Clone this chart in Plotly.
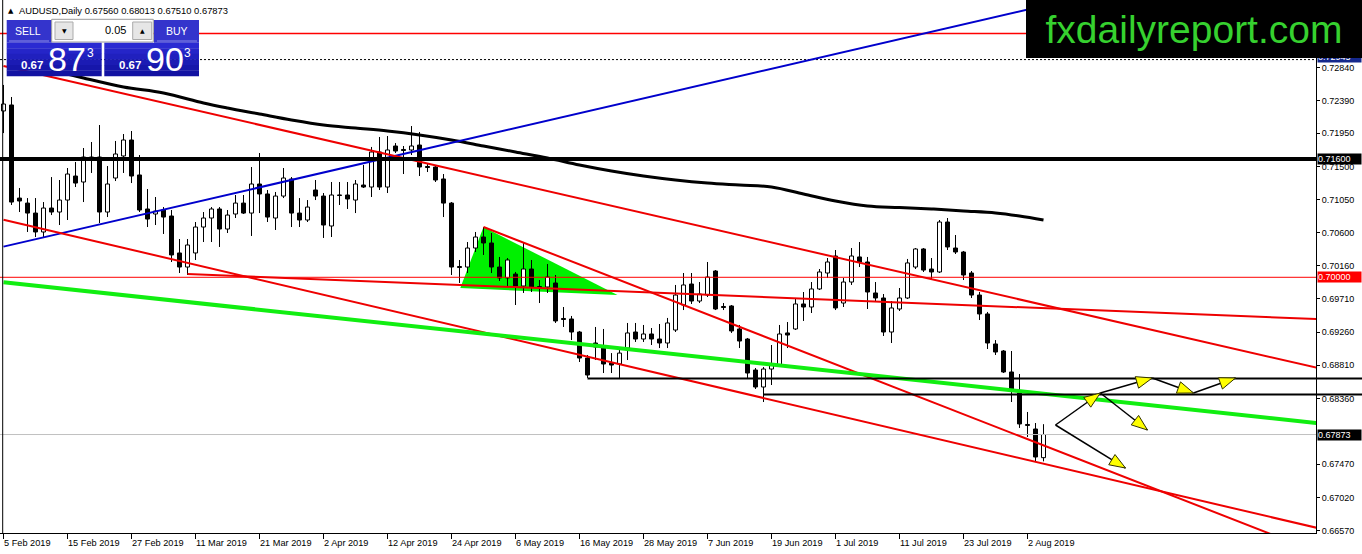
import numpy as np
import pandas as pd
import plotly.graph_objects as go

# ---------------- data ----------------
dates = pd.bdate_range("2019-02-05", "2019-08-06")

open_ = [0.72250, 0.72331, 0.71072, 0.71004, 0.70869, 0.70613, 0.70937, 0.70883, 0.71045, 0.71370,
         0.71289, 0.71627, 0.71627, 0.70883, 0.71343, 0.71641, 0.71857, 0.71384, 0.70924, 0.70856,
         0.70910, 0.70829, 0.70329, 0.70139, 0.70329, 0.70680, 0.70802, 0.70924, 0.70653, 0.70856,
         0.71004, 0.70869, 0.71262, 0.71127, 0.70802, 0.71099, 0.71330, 0.70869, 0.70775, 0.71181,
         0.71099, 0.70694, 0.71113, 0.71113, 0.71045, 0.71248, 0.71221, 0.71695, 0.71221, 0.71776,
         0.71729, 0.71722, 0.71789, 0.71499, 0.71492, 0.71330, 0.71004, 0.70146, 0.70139, 0.70396,
         0.70545, 0.70464, 0.70139, 0.69991, 0.70044, 0.69882, 0.70112, 0.69875, 0.69869, 0.69923,
         0.69443, 0.69436, 0.69260, 0.68908, 0.69111, 0.69043, 0.68840, 0.68827, 0.69043, 0.69260,
         0.69165, 0.69233, 0.69165, 0.69111, 0.69287, 0.69625, 0.69909, 0.69679, 0.69760, 0.70085,
         0.69605, 0.69612, 0.69301, 0.69165, 0.68746, 0.68516, 0.68759, 0.68813, 0.69247, 0.69301,
         0.69639, 0.69598, 0.69842, 0.70058, 0.70288, 0.69652, 0.69936, 0.70275, 0.70207, 0.69788,
         0.69720, 0.69260, 0.69571, 0.69720, 0.70139, 0.70383, 0.70112, 0.70072, 0.70748, 0.70396,
         0.70342, 0.70058, 0.69760, 0.69504, 0.69098, 0.69003, 0.68719, 0.68435, 0.68009, 0.67948,
         0.67560]
high = [0.72602, 0.72439, 0.71208, 0.71072, 0.71072, 0.71018, 0.71356, 0.71316, 0.71478, 0.71560,
        0.71749, 0.71830, 0.72060, 0.71505, 0.71844, 0.71938, 0.71979, 0.71654, 0.71194, 0.71086,
        0.70950, 0.70910, 0.70518, 0.70518, 0.70748, 0.70883, 0.70950, 0.70950, 0.70910, 0.71113,
        0.71113, 0.71492, 0.71681, 0.71181, 0.71154, 0.71478, 0.71356, 0.71072, 0.71045, 0.71316,
        0.71140, 0.71289, 0.71289, 0.71289, 0.71316, 0.71519, 0.71763, 0.71898, 0.71911, 0.71816,
        0.71776, 0.72046, 0.71965, 0.71532, 0.71505, 0.71397, 0.71018, 0.70234, 0.70477, 0.70613,
        0.70680, 0.70599, 0.70275, 0.70261, 0.70072, 0.70477, 0.70234, 0.69963, 0.70180, 0.70031,
        0.69598, 0.69477, 0.69274, 0.68949, 0.69328, 0.69301, 0.68975, 0.69016, 0.69382, 0.69382,
        0.69355, 0.69314, 0.69368, 0.69450, 0.69896, 0.70058, 0.70058, 0.69936, 0.70207, 0.70098,
        0.69652, 0.69625, 0.69355, 0.69179, 0.68773, 0.68786, 0.69084, 0.69355, 0.69395, 0.69720,
        0.69801, 0.69936, 0.70112, 0.70261, 0.70369, 0.69990, 0.70396, 0.70477, 0.70275, 0.69936,
        0.69774, 0.69679, 0.69855, 0.70248, 0.70396, 0.70396, 0.70261, 0.70775, 0.70802, 0.70572,
        0.70356, 0.70085, 0.69801, 0.69531, 0.69151, 0.69016, 0.69003, 0.68692, 0.68178, 0.68029,
        0.68013]
low = [0.71951, 0.70978, 0.70883, 0.70613, 0.70545, 0.70532, 0.70842, 0.70707, 0.70775, 0.71221,
       0.71018, 0.71411, 0.70734, 0.70815, 0.71302, 0.71411, 0.71275, 0.70883, 0.70680, 0.70707,
       0.70586, 0.70207, 0.70058, 0.70031, 0.70234, 0.70477, 0.70477, 0.70410, 0.70599, 0.70802,
       0.70856, 0.70559, 0.70869, 0.70748, 0.70640, 0.71072, 0.70680, 0.70680, 0.70748, 0.71045,
       0.70532, 0.70545, 0.70978, 0.70924, 0.70869, 0.71208, 0.71086, 0.71181, 0.71140, 0.71681,
       0.71397, 0.71654, 0.71370, 0.71424, 0.71289, 0.70815, 0.70031, 0.69923, 0.70058, 0.70342,
       0.70302, 0.70058, 0.69950, 0.69869, 0.69625, 0.69788, 0.69801, 0.69652, 0.69788, 0.69382,
       0.69328, 0.69151, 0.68854, 0.68638, 0.68881, 0.68705, 0.68705, 0.68638, 0.68881, 0.69125,
       0.69125, 0.69084, 0.69043, 0.69043, 0.69260, 0.69557, 0.69639, 0.69652, 0.69733, 0.69557,
       0.69557, 0.69247, 0.69043, 0.68638, 0.68489, 0.68313, 0.68543, 0.68786, 0.69043, 0.69287,
       0.69409, 0.69517, 0.69828, 0.69990, 0.69557, 0.69598, 0.69896, 0.70139, 0.69571, 0.69666,
       0.69206, 0.69111, 0.69544, 0.69706, 0.70112, 0.70072, 0.69963, 0.70058, 0.70369, 0.70315,
       0.69963, 0.69720, 0.69422, 0.69030, 0.68949, 0.68705, 0.68313, 0.67962, 0.67840, 0.67515,
       0.67510]
close = [0.72344, 0.71018, 0.71032, 0.70869, 0.70613, 0.70937, 0.70883, 0.71045, 0.71397, 0.71275,
         0.71627, 0.71600, 0.70883, 0.71262, 0.71668, 0.71857, 0.71370, 0.70910, 0.70788, 0.70896,
         0.70815, 0.70302, 0.70139, 0.70437, 0.70680, 0.70802, 0.70924, 0.70653, 0.70842, 0.71004,
         0.70869, 0.71262, 0.71127, 0.70815, 0.71099, 0.71343, 0.70869, 0.70775, 0.70950, 0.71099,
         0.70707, 0.71113, 0.71106, 0.71059, 0.71262, 0.71221, 0.71695, 0.71221, 0.71722, 0.71708,
         0.71715, 0.71776, 0.71492, 0.71485, 0.71316, 0.71004, 0.70139, 0.70132, 0.70396, 0.70545,
         0.70464, 0.70139, 0.69991, 0.70234, 0.69882, 0.70112, 0.69869, 0.69862, 0.70004, 0.69409,
         0.69429, 0.69260, 0.68908, 0.68678, 0.69057, 0.68827, 0.68813, 0.68975, 0.69247, 0.69165,
         0.69233, 0.69165, 0.69111, 0.69382, 0.69760, 0.69896, 0.69679, 0.69774, 0.70004, 0.69571,
         0.69591, 0.69274, 0.69138, 0.68705, 0.68516, 0.68759, 0.68813, 0.69233, 0.69219, 0.69639,
         0.69598, 0.69842, 0.70072, 0.70207, 0.69585, 0.69936, 0.70288, 0.70207, 0.69801, 0.69720,
         0.69260, 0.69585, 0.69720, 0.70194, 0.70383, 0.70098, 0.70072, 0.70748, 0.70410, 0.70342,
         0.70031, 0.69760, 0.69504, 0.69111, 0.68989, 0.68719, 0.68489, 0.68016, 0.67996, 0.67569,
         0.67873]

# moving average (bar index, value)
ma_idx = [6, 10, 15, 20, 25, 28, 32, 36, 40, 44, 48, 52, 56, 60, 64, 68, 72, 76, 80, 84, 88, 92,
          96, 100, 104, 108, 112, 116, 120, 124, 127, 130]
ma_val = [0.72804, 0.72696, 0.72574, 0.72493, 0.72358, 0.72290, 0.72209, 0.72128, 0.72060, 0.72019,
          0.71979, 0.71925, 0.71857, 0.71776, 0.71695, 0.71614, 0.71519, 0.71438, 0.71370, 0.71316,
          0.71275, 0.71248, 0.71221, 0.71127, 0.71032, 0.70964, 0.70944, 0.70924, 0.70897, 0.70870,
          0.70829, 0.70775]

# trend lines: anchor bar indices and prices
blue_idx, blue_px = [0, 128], [0.70415, 0.73622]
upper_ch_idx, upper_ch_px = [0, 164], [0.72857, 0.68781]
lower_ch_idx, lower_ch_px = [0, 164], [0.70779, 0.66615]
steep_idx, steep_px = [60, 158.1], [0.70680, 0.66540]
flat_idx, flat_px = [23, 164], [0.70044, 0.69436]
green_idx, green_px = [0, 164], [0.69932, 0.68031]
tri_idx, tri_px = [57.1, 60.0, 76.75], [0.69855, 0.70680, 0.69760]

level_thick = 0.71600
level_red = 0.70000
level_red_top = 0.73298
level_dotted = 0.72945
sr_levels = [0.68631, 0.68414]
sr_start = [73, 95]

arrow_idx = [131.5, 137.1, 143.6, 148.75, 154.0, 143.0, 140.25]
arrow_px = [0.68002, 0.68435, 0.68638, 0.68435, 0.68638, 0.67934, 0.67420]
arrow_links = [(0, 1), (1, 2), (2, 3), (3, 4), (1, 5), (0, 6)]

x_tick_dates = ["2019-02-05", "2019-02-15", "2019-02-27", "2019-03-11", "2019-03-21", "2019-04-02",
                "2019-04-12", "2019-04-24", "2019-05-06", "2019-05-16", "2019-05-28", "2019-06-07",
                "2019-06-19", "2019-07-01", "2019-07-11", "2019-07-23", "2019-08-02"]
x_tick_text = ["5 Feb 2019", "15 Feb 2019", "27 Feb 2019", "11 Mar 2019", "21 Mar 2019", "2 Apr 2019",
               "12 Apr 2019", "24 Apr 2019", "6 May 2019", "16 May 2019", "28 May 2019", "7 Jun 2019",
               "19 Jun 2019", "1 Jul 2019", "11 Jul 2019", "23 Jul 2019", "2 Aug 2019"]
y_tick_vals = [0.72840, 0.72390, 0.71950, 0.71500, 0.71050, 0.70600, 0.70160, 0.69710, 0.69260,
               0.68810, 0.68360, 0.67470, 0.67020, 0.66570]

# ---------------- geometry ----------------
W, H = 1362, 554
PW, PH = 1316, 533
X0, X1 = -0.4375, 164.0625
Y0, Y1 = 0.66541, 0.73751
sx = PW / (X1 - X0)
sy = PH / (Y1 - Y0)
FONT = "Liberation Sans"


def PX(x):
    return x / PW


def PY(y):
    return 1 - y / PH


def ray(ix, py, x_end=X1 + 1):
    slope = (py[1] - py[0]) / (ix[1] - ix[0])
    return [ix[0], x_end], [py[0], py[0] + slope * (x_end - ix[0])]


n = len(open_)
idx = np.arange(n)
o, h, l, c = map(np.array, (open_, high, low, close))
tick_idx = [dates.get_loc(pd.Timestamp(d)) for d in x_tick_dates]

fig = go.Figure()

# candle bodies
body_base = np.minimum(o, c)
body_h = np.maximum(np.abs(c - o), 0.00008)
fills = ["white" if cc >= oo else "black" for oo, cc in zip(o, c)]
fig.add_trace(go.Bar(x=idx, y=body_h, base=body_base, width=0.5,
                     marker=dict(color=fills, line=dict(color="black", width=1)),
                     hoverinfo="skip", showlegend=False))
# wicks
wx, wy = [], []
for i in range(n):
    top, bot = max(o[i], c[i]), min(o[i], c[i])
    wx += [i, i, None, i, i, None]
    wy += [h[i], top, None, bot, l[i], None]
fig.add_trace(go.Scatter(x=wx, y=wy, mode="lines", line=dict(color="black", width=1),
                         hoverinfo="skip", showlegend=False))


def add_line(xs, ys, color, width, dash=None, shape="linear"):
    fig.add_trace(go.Scatter(x=xs, y=ys, mode="lines",
                             line=dict(color=color, width=width, dash=dash, shape=shape),
                             hoverinfo="skip", showlegend=False))


RED = "#EE0000"
# horizontal levels
add_line([X0, X1], [level_red_top] * 2, "#FF0000", 1.3)
add_line([X0, X1], [level_dotted] * 2, "black", 1, dash="2px,2px")
add_line([X0, X1], [level_red] * 2, "#FF0000", 1)
add_line([X0, X1], [close[-1]] * 2, "#C0C0C0", 1)
# moving average
add_line(ma_idx, ma_val, "black", 3, shape="spline")
# trend lines
add_line(*ray(blue_idx, blue_px), "#0000CC", 2)
add_line(*ray(upper_ch_idx, upper_ch_px), RED, 2)
add_line(*ray(lower_ch_idx, lower_ch_px), RED, 2)
add_line(*ray(steep_idx, steep_px), RED, 2)
add_line(*ray(flat_idx, flat_px), RED, 2)
add_line(*ray(green_idx, green_px), "#11EE11", 4)
add_line([X0, X1], [level_thick] * 2, "black", 4)
for lv, st in zip(sr_levels, sr_start):
    add_line([st, X1], [lv, lv], "black", 2)

# arrows
for a, b in arrow_links:
    add_line([arrow_idx[a], arrow_idx[b]], [arrow_px[a], arrow_px[b]], "black", 1.5)
for a, b in arrow_links:
    xa, ya, xb, yb = arrow_idx[a], arrow_px[a], arrow_idx[b], arrow_px[b]
    dx, dy = (xb - xa) * sx, (yb - ya) * sy
    d = np.hypot(dx, dy)
    ux, uy = dx / d, dy / d
    nx, ny = -uy, ux
    L, Wd = 16, 6
    pts = [(0, 0), (-L * ux + Wd * nx, -L * uy + Wd * ny), (-L * ux - Wd * nx, -L * uy - Wd * ny), (0, 0)]
    fig.add_trace(go.Scatter(x=[xb + p[0] / sx for p in pts], y=[yb + p[1] / sy for p in pts],
                             mode="lines", fill="toself", fillcolor="#FFFF00",
                             line=dict(color="#333300", width=1), hoverinfo="skip", showlegend=False))

shapes = []
# green triangle (background)
tri_path = "M {} {} L {} {} L {} {} Z".format(tri_idx[0], tri_px[0], tri_idx[1], tri_px[1], tri_idx[2], tri_px[2])
shapes.append(dict(type="path", path=tri_path, xref="x", yref="y", fillcolor="#00F000",
                   line=dict(width=0), layer="below"))
# black S/R lines continue through the price scale
for lv in sr_levels:
    shapes.append(dict(type="line", xref="paper", yref="y", x0=1, x1=W / PW, y0=lv, y1=lv,
                       line=dict(color="black", width=2), layer="above"))
# left border
shapes.append(dict(type="line", xref="paper", yref="paper", x0=PX(2.7), x1=PX(2.7), y0=0, y1=1,
                   line=dict(color="black", width=1)))


def rect(x0, y0, x1, y1, fill, line_color=None, lw=0):
    shapes.append(dict(type="rect", xref="paper", yref="paper", x0=PX(x0), x1=PX(x1), y0=PY(y1), y1=PY(y0),
                       fillcolor=fill, line=dict(color=line_color or fill, width=lw), layer="above"))


# trade panel
rect(6.7, 20, 51.7, 42.7, "#3434CC")
rect(154, 20, 199, 42.7, "#3434CC")
rect(51.7, 19.3, 153.3, 42, "white", "#9A9A9A", 1)
rect(55, 22, 73, 39.5, "#E6E6E6", "#ABABAB", 1)
rect(132.7, 22, 151.7, 39.5, "#E6E6E6", "#ABABAB", 1)
bands = ["#2A2AD2", "#2525C8", "#2020BE", "#1B1BB4", "#1616AA", "#1212A2"]
bh = (76 - 42.7) / len(bands)
for k, col in enumerate(bands):
    rect(6.7, 42.7 + k * bh, 101.7, 42.7 + (k + 1) * bh + 0.3, col)
    rect(104.3, 42.7 + k * bh, 199, 42.7 + (k + 1) * bh + 0.3, col)
for xa, xb in [(9, 49), (157, 197)]:
    shapes.append(dict(type="line", xref="paper", yref="paper", x0=PX(xa), x1=PX(xb), y0=PY(41), y1=PY(41),
                       line=dict(color="#8A8AE8", width=1), layer="above"))

ann = []


def text(x, y, s, size, color="black", anchor="left", bold=False, family=FONT):
    ann.append(dict(xref="paper", yref="paper", x=PX(x), y=PY(y), text=f"<b>{s}</b>" if bold else s,
                    showarrow=False, xanchor=anchor, yanchor="middle",
                    font=dict(family=family, size=size, color=color)))


text(10.5, 10.5, "▲", 7, family="DejaVu Sans", anchor="center")
text(17, 10.5, "AUDUSD,Daily {:.5f} {:.5f} {:.5f} {:.5f}".format(open_[-1], high[-1], low[-1], close[-1]), 9.4)
text(28, 31, "SELL", 10.5, "white", "center")
text(176.5, 31, "BUY", 10.5, "white", "center")
text(64, 30.5, "▼", 6, family="DejaVu Sans", anchor="center")
text(142, 30.5, "▲", 6, family="DejaVu Sans", anchor="center")
text(128, 30.5, "0.05", 11, anchor="right")
text(32, 65, "0.67", 11.5, "white", "center", bold=True)
text(67, 59, "87", 34, "white", "center")
text(90, 52.5, "3", 12, "white", "center")
text(130, 65, "0.67", 11.5, "white", "center", bold=True)
text(164.5, 59, "90", 34, "white", "center")
text(187.5, 52.5, "3", 12, "white", "center")

# x labels
for ti, tt in zip(tick_idx, x_tick_text):
    ann.append(dict(xref="x", yref="paper", x=ti, y=0, text=tt, showarrow=False, xanchor="left",
                    yanchor="top", xshift=-2, yshift=-3, font=dict(family=FONT, size=9.2, color="black")))


def axis_box(value, bg, yshift=0):
    ann.append(dict(xref="paper", yref="y", x=1, y=value, text=f"{value:.5f}", showarrow=False,
                    xanchor="left", yanchor="middle", xshift=1, yshift=yshift, width=43, height=10,
                    align="left", bgcolor=bg, borderpad=0, font=dict(family=FONT, size=9, color="white")))


axis_box(level_dotted, "#14288C", yshift=3)
axis_box(level_thick, "black")
axis_box(level_red, "#FF0000")
axis_box(close[-1], "black")

# logo
ann.append(dict(xref="paper", yref="paper", x=PX(1026), y=1, xanchor="left", yanchor="top",
                width=336, height=58, bgcolor="black", borderpad=0, borderwidth=0, showarrow=False,
                text="fxdailyreport.com", align="center", valign="middle",
                font=dict(family=FONT, size=39, color="#36D12F")))

fig.update_layout(
    width=W, height=H, margin=dict(l=0, r=W - PW, t=0, b=H - PH),
    plot_bgcolor="white", paper_bgcolor="white", showlegend=False, barmode="overlay",
    xaxis=dict(range=[X0, X1], showgrid=False, zeroline=False, showline=True, linecolor="black",
               linewidth=1, ticks="outside", ticklen=5, tickcolor="black", tickvals=tick_idx,
               showticklabels=False, fixedrange=True),
    yaxis=dict(range=[Y0, Y1], side="right", showgrid=False, zeroline=False, showline=True,
               linecolor="black", linewidth=1, ticks="outside", ticklen=3, tickcolor="black",
               tickvals=y_tick_vals, ticktext=[f"{v:.5f}" for v in y_tick_vals],
               tickfont=dict(family=FONT, size=9, color="black"), fixedrange=True),
    shapes=shapes, annotations=ann,
)

fig.write_html("out.html", config={"displayModeBar": False},
               post_script="document.body.style.margin='0';document.body.style.padding='0';"
                           "document.body.style.overflow='hidden';")
